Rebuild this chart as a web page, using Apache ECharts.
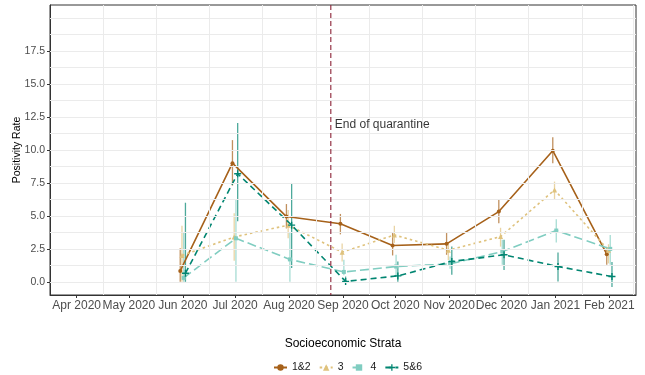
<!DOCTYPE html>
<html>
<head>
<meta charset="utf-8">
<script src="https://cdn.jsdelivr.net/npm/echarts@6/dist/echarts.min.js"></script>
<style>
  html, body { margin: 0; padding: 0; background: #ffffff; }
  #chart { width: 645px; height: 375px; }
</style>
</head>
<body>
<div id="chart"></div>
<script>
// Monthly sampling dates (first of each month)
const months = ['2020-06-01', '2020-07-01', '2020-08-01', '2020-09-01', '2020-10-01',
                '2020-11-01', '2020-12-01', '2021-01-01', '2021-02-01'];

// Axis tick labels (month starts)
const tickMonths = ['2020-04-01', '2020-05-01', '2020-06-01', '2020-07-01', '2020-08-01', '2020-09-01',
                    '2020-10-01', '2020-11-01', '2020-12-01', '2021-01-01', '2021-02-01'];
const yTicks = [0, 2.5, 5, 7.5, 10, 12.5, 15, 17.5];

const strata = ['1&2', '3', '4', '5&6'];

// Positivity rate (%) with lower / upper confidence bounds, per stratum
const rate12  = [0.83, 9.0, 4.95, 4.4, 2.75, 2.88, 5.33, 9.95, 2.1];
const low12   = [0.0, 7.3, 4.05, 3.6, 2.0, 2.05, 4.44, 9.0, 1.3];
const high12  = [2.55, 10.75, 5.9, 5.15, 3.7, 3.7, 6.26, 10.96, 2.65];

const rate3   = [2.0, 3.4, 4.3, 2.25, 3.55, 2.4, 3.43, 6.97, 2.4];
const low3    = [0.0, 1.6, 3.3, 1.55, 2.95, 1.65, 2.67, 6.26, 1.4];
const high3   = [4.25, 5.2, 5.45, 2.9, 4.25, 3.0, 4.1, 7.6, 2.85];

const rate4   = [0.3, 3.3, 1.7, 0.75, 1.16, 1.36, 2.3, 3.89, 2.5];
const low4    = [0.0, 0.0, 0.0, 0.5, 0.4, 1.0, 1.3, 2.98, 1.3];
const high4   = [3.75, 6.2, 3.7, 1.67, 2.05, 1.92, 3.2, 4.75, 3.55];

const rate56  = [0.65, 8.2, 4.3, 0.03, 0.45, 1.54, 2.05, 1.16, 0.4];
const low56   = [0.0, 4.6, 1.05, 0.0, 0.0, 0.53, 0.9, 0.02, -0.4];
const high56  = [6.0, 12.05, 7.5, 0.4, 1.54, 2.67, 3.2, 2.22, 1.5];

const quarantineEnd = '2020-08-25';
const quarantineLabel = 'End of quarantine';

// ---- derived values ----
const DAY = 86400000;
const ts = s => Date.parse(s + 'T00:00:00Z');
const colors = ['#a6611a', '#dfc27d', '#80cdc1', '#018571'];
const dodgeDays = [-1.5, -0.5, 0.5, 1.5];   // side-by-side offset of the strata
const rates = [rate12, rate3, rate4, rate56];
const lows = [low12, low3, low4, low56];
const highs = [high12, high3, high4, high56];

const xFirst = ts(tickMonths[0]);
const xLast = ts(tickMonths[tickMonths.length - 1]);
const xPad = (xLast - xFirst) * 0.05;
const xMin = xFirst - xPad, xMax = xLast + xPad;
const yMin = -1, yMax = 21;

// vertical grid lines halfway between month starts
const vGrid = [];
const allMonths = ['2020-03-01'].concat(tickMonths, ['2021-03-01']);
for (let i = 0; i < allMonths.length - 1; i++) {
  const m = (ts(allMonths[i]) + ts(allMonths[i + 1])) / 2;
  if (m > xMin && m < xMax) vGrid.push(m);
}
// horizontal grid lines every 1.25
const hGrid = [];
for (let v = 0; v <= 20.001; v += 1.25) hGrid.push(v);

const monthNames = ['Jan','Feb','Mar','Apr','May','Jun','Jul','Aug','Sep','Oct','Nov','Dec'];
const fmtMonth = v => { const d = new Date(v); return monthNames[d.getUTCMonth()] + ' ' + d.getUTCFullYear(); };

const FONT = "'Liberation Sans', Arial, Helvetica, sans-serif";
const plusPath = 'path://M4,0H6V4H10V6H6V10H4V6H0V4H4Z';
const symbols = ['circle', 'triangle', 'rect', plusPath];
const symbolSizes = [4, 5, 4, 7];
const dashes = ['solid', [2.5, 3], [9, 4], [6, 4]];

const series = [];

// background grid
series.push({
  type: 'line', data: [], silent: true, z: 0,
  markLine: {
    silent: true, symbol: 'none', animation: false,
    label: { show: false },
    lineStyle: { color: '#ebebeb', width: 1, type: 'solid' },
    data: hGrid.map(v => ({ yAxis: v })).concat(vGrid.map(v => ({ xAxis: v })))
  }
});

strata.forEach((name, i) => {
  const off = dodgeDays[i] * DAY;
  const pts = months.map((m, k) => [ts(m) + off, rates[i][k]]);
  const bars = months.map((m, k) => [ts(m) + off, lows[i][k], highs[i][k]]);
  const col = colors[i];
  series.push({
    type: 'custom', name: name + ' CI', z: 3, clip: true, silent: true,
    data: bars,
    encode: { x: 0, y: [1, 2] },
    renderItem: (params, api) => {
      const x = api.value(0);
      const p1 = api.coord([x, api.value(1)]);
      const p2 = api.coord([x, api.value(2)]);
      return {
        type: 'line',
        shape: { x1: p1[0], y1: p1[1], x2: p2[0], y2: p2[1] },
        style: { stroke: col, lineWidth: 1.3, opacity: 0.7 }
      };
    }
  });
  series.push({
    type: 'line', name: name, z: 4,
    data: pts,
    symbol: symbols[i], symbolSize: symbolSizes[i], showAllSymbol: true,
    itemStyle: { color: col, borderWidth: 0 },
    lineStyle: { color: col, width: 1.6, type: dashes[i] },
    animation: false
  });
});

// end-of-quarantine vertical dashed line, spanning the whole panel
series.push({
  type: 'custom', z: 5, silent: true, clip: true,
  data: [[ts(quarantineEnd)]],
  encode: { x: 0 },
  renderItem: (params, api) => {
    const top = api.coord([api.value(0), yMax]);
    const bot = api.coord([api.value(0), yMin]);
    return {
      type: 'line',
      shape: { x1: top[0], y1: top[1], x2: bot[0], y2: bot[1] },
      style: { stroke: '#8c2236', lineWidth: 1.1, lineDash: [5, 3] }
    };
  }
});
// and its annotation
series.push({
  type: 'scatter', z: 5, silent: true,
  data: [[ts(quarantineEnd), 11.9]],
  symbolSize: 0,
  label: {
    show: true, position: 'right', distance: 4,
    formatter: quarantineLabel,
    color: '#000000', fontSize: 12, fontFamily: FONT
  }
});

const chart = echarts.init(document.getElementById('chart'), null, { renderer: 'canvas' });
chart.setOption({
  animation: false,
  backgroundColor: '#ffffff',
  textStyle: { fontFamily: FONT },
  grid: {
    left: 50, right: 9, top: 5, bottom: 80,
    show: true, borderColor: '#333333', borderWidth: 1, backgroundColor: 'transparent'
  },
  xAxis: {
    type: 'value', min: xMin, max: xMax,
    axisLine: { show: true, onZero: false, lineStyle: { color: '#333333', width: 1 } },
    axisTick: { show: true, length: 3, lineStyle: { color: '#333333' },
                customValues: tickMonths.map(ts) },
    axisLabel: { customValues: tickMonths.map(ts), formatter: fmtMonth,
                 color: '#4d4d4d', fontSize: 12, margin: 5, fontFamily: FONT },
    splitLine: { show: false }
  },
  yAxis: {
    type: 'value', min: yMin, max: yMax,
    axisLine: { show: true, onZero: false, lineStyle: { color: '#333333', width: 1 } },
    axisTick: { show: true, length: 3, lineStyle: { color: '#333333' }, customValues: yTicks },
    axisLabel: { customValues: yTicks, formatter: v => v.toFixed(1),
                 color: '#4d4d4d', fontSize: 10.5, margin: 5, fontFamily: FONT },
    splitLine: { show: false }
  },
  legend: {
    data: strata,
    orient: 'horizontal',
    left: 268, top: 357,
    itemWidth: 13, itemHeight: 8, itemGap: 8,
    textStyle: { fontSize: 10.5, color: '#1a1a1a', fontFamily: FONT }
  },
  graphic: [
    { type: 'text', x: 17, y: 150, rotation: Math.PI / 2,
      style: { text: 'Positivity Rate', fill: '#000000', fontSize: 10.5, fontFamily: FONT,
               textAlign: 'center', textVerticalAlign: 'middle' } },
    { type: 'text', x: 343, y: 344,
      style: { text: 'Socioeconomic Strata', fill: '#000000', fontSize: 12, fontFamily: FONT,
               textAlign: 'center', textVerticalAlign: 'middle' } }
  ],
  series: series
});
</script>
</body>
</html>
